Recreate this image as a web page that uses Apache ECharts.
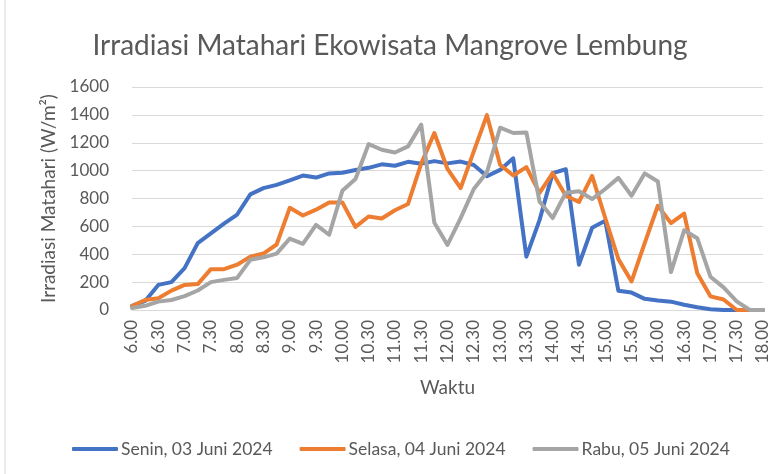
<!DOCTYPE html>
<html>
<head>
<meta charset="utf-8">
<script src="https://cdn.jsdelivr.net/npm/echarts@6/dist/echarts.min.js"></script>
<style>html,body{margin:0;padding:0;background:#fff}#c{width:780px;height:474px}</style>
</head>
<body>
<div id="c"></div>
<script>
const times = ['6.00','6.15','6.30','6.45','7.00','7.15','7.30','7.45','8.00','8.15','8.30','8.45','9.00','9.15','9.30','9.45','10.00','10.15','10.30','10.45','11.00','11.15','11.30','11.45','12.00','12.15','12.30','12.45','13.00','13.15','13.30','13.45','14.00','14.15','14.30','14.45','15.00','15.15','15.30','15.45','16.00','16.15','16.30','16.45','17.00','17.15','17.30','17.45','18.00'];
const senin = [30,65,180,200,300,480,550,620,685,830,874,898,930,965,950,980,985,1005,1020,1045,1035,1063,1050,1068,1052,1065,1040,960,1005,1088,383,645,982,1010,325,590,640,138,125,80,68,60,38,20,6,0,0,0,0];
const selasa = [29,72,84,139,180,186,293,293,325,383,405,470,733,678,720,772,772,596,671,657,716,761,1050,1270,1012,874,1138,1398,1042,965,1025,840,982,820,775,962,660,365,205,480,748,623,692,264,98,75,0,0,0];
const rabu = [15,30,60,72,100,140,200,216,230,360,378,405,512,475,611,540,855,940,1190,1150,1130,1174,1330,626,467,659,868,988,1308,1270,1274,778,660,842,852,796,868,948,820,980,922,272,572,515,239,162,62,0,0];
const seriesNames = ['Senin, 03 Juni 2024','Selasa, 04 Juni 2024','Rabu, 05 Juni 2024'];
const colors = ['#4472C4','#ED7D31','#A5A5A5'];
const FONT = 'Lato';
const chart = echarts.init(document.getElementById('c'), null, {renderer:'canvas'});
function mk(name, data, color){
  return {name, type:'line', data, showSymbol:false, symbol:'none', smooth:false,
    lineStyle:{color, width:4, cap:'round', join:'round'}, itemStyle:{color}};
}
chart.setOption({
  animation:false,
  color: colors,
  title:{text:'Irradiasi Matahari Ekowisata Mangrove Lembung', left:'center', top:27,
    textStyle:{fontFamily:FONT, fontSize:28, fontWeight:'normal', color:'#595959'}},
  grid:{left:132, right:17, top:87, bottom:164, containLabel:false},
  legend:{left:67, top:435, itemWidth:46, itemHeight:4, itemGap:27, icon:'roundRect',
    textStyle:{fontFamily:FONT, fontSize:17.5, color:'#595959', padding:[0,0,0,-2]}, data:seriesNames},
  xAxis:{type:'category', data:times, boundaryGap:false,
    name:'Waktu', nameLocation:'middle', nameGap:68,
    nameTextStyle:{fontFamily:FONT, fontSize:19, color:'#595959'},
    axisLine:{lineStyle:{color:'#D9D9D9', width:1}}, axisTick:{show:false},
    axisLabel:{interval:1, rotate:90, margin:10, fontFamily:FONT, fontSize:17, color:'#595959'}},
  yAxis:{type:'value', min:0, max:1600, interval:200,
    name:'Irradiasi Matahari (W/m²)', nameLocation:'middle', nameGap:72, nameRotate:90,
    nameTextStyle:{fontFamily:FONT, fontSize:19, color:'#595959'},
    axisLine:{show:false}, axisTick:{show:false},
    splitLine:{lineStyle:{color:'#D9D9D9', width:1}},
    axisLabel:{margin:23, fontFamily:FONT, fontSize:17, color:'#595959', formatter:v=>String(v)}},
  graphic:[{type:'line', shape:{x1:5,y1:0,x2:5,y2:474}, style:{stroke:'#D9D9D9', lineWidth:1}}],
  series:[mk(seriesNames[0], senin, colors[0]), mk(seriesNames[1], selasa, colors[1]), mk(seriesNames[2], rabu, colors[2])]
});
</script>
</body>
</html>
